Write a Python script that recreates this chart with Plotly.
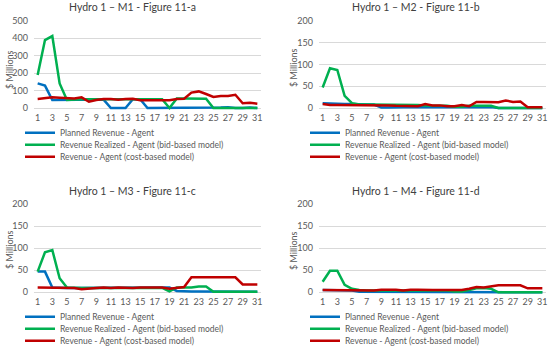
import plotly.graph_objects as go

# ---------------- data ----------------
days = list(range(1, 32))
x_tick_labels = [str(d) for d in range(1, 32, 2)]

series_names = [
    "Planned Revenue - Agent",
    "Revenue Realized - Agent (bid-based model)",
    "Revenue - Agent (cost-based model)",
]

titles = [
    "Hydro 1 – M1 - Figure 11-a",
    "Hydro 1 – M2 - Figure 11-b",
    "Hydro 1 – M3 - Figure 11-c",
    "Hydro 1 – M4 - Figure 11-d",
]

planned_m1 = [141, 128, 46, 46, 46, 46, 48, 48, 48, 48, 0, 0, 0, 50, 50, 0, 0, 0, 0, 0, 0, 0, 0, 0, 0, 3, 5, 0, 0, 3, 0]
realized_m1 = [189, 389, 412, 141, 46, 50, 50, 50, 50, 50, 50, 50, 50, 50, 50, 50, 50, 50, 0, 55, 55, 55, 55, 53, 0, 0, 0, 0, 0, 0, 0]
cost_m1 = [52, 55, 61, 59, 55, 55, 61, 36, 46, 52, 52, 48, 52, 53, 44, 44, 46, 46, 44, 52, 53, 88, 95, 80, 63, 69, 69, 76, 27, 30, 25]

planned_m2 = [11, 10, 10, 9, 9, 8, 8, 8, 1, 1, 2, 2, 2, 2, 2, 2, 2, 2, 2, 2, 2, 2, 2, 2, 0, 0, 0, 0, 0, 0, 0]
realized_m2 = [47, 91, 87, 28, 11, 8, 8, 8, 8, 8, 8, 8, 8, 7, 6, 5, 5, 5, 3, 3, 5, 5, 5, 5, 0, 0, 0, 0, 0, 0, 0]
cost_m2 = [9, 7, 7, 7, 7, 7, 6, 7, 6, 6, 5, 5, 5, 4, 9, 6, 6, 4, 4, 7, 4, 14, 14, 14, 13, 17, 14, 15, 2, 2, 2]

planned_m3 = [47, 47, 11, 10, 10, 10, 10, 10, 10, 10, 10, 10, 10, 10, 10, 10, 10, 10, 11, 3, 2, 2, 2, 2, 1, 1, 1, 1, 1, 1, 1]
realized_m3 = [47, 91, 96, 32, 11, 10, 10, 10, 10, 10, 10, 10, 10, 10, 10, 10, 10, 10, 2, 11, 11, 11, 13, 13, 1, 1, 1, 1, 1, 1, 1]
cost_m3 = [11, 11, 11, 10, 10, 10, 7, 9, 10, 11, 10, 11, 10, 10, 11, 11, 11, 11, 8, 10, 12, 34, 34, 34, 34, 34, 34, 34, 18, 18, 18]

planned_m4 = [5, 5, 4, 4, 4, 1, 1, 1, 1, 1, 1, 1, 1, 1, 1, 1, 1, 1, 1, 1, 1, 1, 1, 1, 0, 0, 0, 0, 0, 0, 0]
realized_m4 = [24, 49, 49, 17, 8, 5, 4, 4, 4, 4, 4, 4, 4, 4, 4, 4, 4, 4, 2, 2, 5, 9, 10, 8, 0, 0, 0, 0, 0, 0, 0]
cost_m4 = [5, 5, 5, 5, 5, 5, 5, 4, 6, 6, 6, 4, 6, 6, 5, 5, 5, 5, 6, 5, 8, 12, 11, 14, 16, 16, 16, 16, 9, 9, 9]

y_max = [500, 200, 200, 200]
y_step = [100, 50, 50, 50]

# ---------------- layout helpers (pixel geometry) ----------------
W, H = 550, 349
FONT = "Lato, 'Liberation Sans', sans-serif"
TXT = "#595959"
COLORS = ["#0070C0", "#00B050", "#C00000"]


def fx(px):
    return px / W


def fy(py):
    return 1 - py / H


# per-panel geometry: plot-area left/right, y top (max), y bottom (zero)
geo = [
    dict(l=34, r=261, top=20.7, bot=108.0, tx=132, ty=7, atx=9, aty=70, lgx=60, lgy=[132.7, 144.7, 156.7]),
    dict(l=319, r=546, top=20.7, bot=108.0, tx=416, ty=7, atx=293, aty=68, lgx=345, lgy=[132.7, 144.7, 156.7]),
    dict(l=34, r=261, top=204.3, bot=292.3, tx=132, ty=191, atx=9, aty=250, lgx=60, lgy=[316.7, 328.7, 340.7]),
    dict(l=319, r=546, top=204.3, bot=292.3, tx=416, ty=191, atx=293, aty=251, lgx=345, lgy=[316.7, 328.7, 340.7]),
]

data = [
    (planned_m1, realized_m1, cost_m1),
    (planned_m2, realized_m2, cost_m2),
    (planned_m3, realized_m3, cost_m3),
    (planned_m4, realized_m4, cost_m4),
]

fig = go.Figure()
layout = dict(
    width=W,
    height=H,
    margin=dict(l=0, r=0, t=0, b=0, autoexpand=False),
    paper_bgcolor="white",
    plot_bgcolor="white",
    font=dict(family=FONT, color=TXT, size=9),
    annotations=[],
)

EXT = 3  # px of extra room below zero so lines on zero are not clipped
leg_i = 0
for p in range(4):
    g = geo[p]
    sfx = "" if p == 0 else str(p + 1)
    ymax = y_max[p]
    ppu = (g["bot"] - g["top"]) / ymax
    ymin = -EXT / ppu
    layout["xaxis" + sfx] = dict(
        domain=[fx(g["l"]), fx(g["r"])],
        anchor="y" + sfx,
        range=[0.5, 31.5],
        tickmode="array",
        tickvals=list(range(1, 32, 2)),
        ticktext=x_tick_labels,
        showgrid=False,
        zeroline=False,
        showline=False,
        ticks="",
        tickfont=dict(size=9, color=TXT, family=FONT),
        fixedrange=True,
    )
    layout["yaxis" + sfx] = dict(
        domain=[fy(g["bot"] + EXT), fy(g["top"])],
        anchor="x" + sfx,
        range=[ymin, ymax],
        tick0=0,
        dtick=y_step[p],
        showgrid=True,
        gridcolor="#D9D9D9",
        gridwidth=1,
        zeroline=True,
        zerolinecolor="#D9D9D9",
        zerolinewidth=1,
        showline=False,
        ticks="",
        ticklabelstandoff=5,
        tickfont=dict(size=9, color=TXT, family=FONT),
        fixedrange=True,
    )
    # title
    layout["annotations"].append(dict(
        text=titles[p], xref="paper", yref="paper", x=fx(g["tx"]), y=fy(g["ty"]),
        xanchor="center", yanchor="middle", showarrow=False,
        font=dict(size=10.5, color="#404040", family=FONT),
    ))
    # y-axis title
    layout["annotations"].append(dict(
        text="$ Millions", xref="paper", yref="paper", x=fx(g["atx"]), y=fy(g["aty"]),
        xanchor="center", yanchor="middle", showarrow=False, textangle=-90,
        font=dict(size=9, color=TXT, family=FONT),
    ))
    for s in range(3):
        leg_i += 1
        lname = "legend" if leg_i == 1 else "legend" + str(leg_i)
        fig.add_trace(go.Scatter(
            x=days, y=data[p][s], mode="lines", name=series_names[s],
            line=dict(color=COLORS[s], width=2.5),
            xaxis="x" + sfx, yaxis="y" + sfx, legend=lname,
            showlegend=True,
        ))
        layout[lname] = dict(
            x=fx(g["lgx"] - 40), y=fy(g["lgy"][s] - 14.5),
            xanchor="left", yanchor="top", xref="paper", yref="paper",
            bgcolor="rgba(0,0,0,0)", borderwidth=0,
            font=dict(size=8.5, color=TXT, family=FONT),
        )

fig.update_layout(**layout)
fig.write_html(
    "out.html",
    config={"displayModeBar": False},
    post_script="document.body.style.margin='0';document.body.style.overflow='hidden';",
)
